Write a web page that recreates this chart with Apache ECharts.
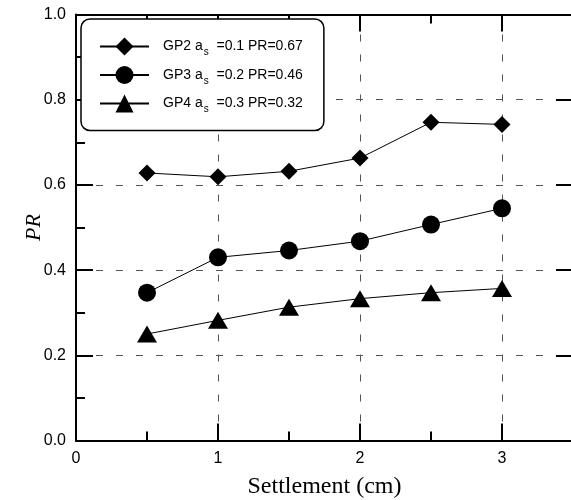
<!DOCTYPE html>
<html>
<head>
<meta charset="utf-8">
<title>PR vs Settlement</title>
<script src="https://cdn.jsdelivr.net/npm/echarts@6/dist/echarts.min.js"></script>
<style>
  html, body { margin: 0; padding: 0; background: #fff; }
  #chart { width: 571px; height: 500px; }
</style>
</head>
<body>
<div id="chart"></div>
<script>
// data
const settlement = [0.5, 1, 1.5, 2, 2.5, 3]
const gp2 = [0.628, 0.619, 0.632, 0.663, 0.747, 0.742]
const gp3 = [0.347, 0.43, 0.446, 0.468, 0.507, 0.545]
const gp4 = [0.25, 0.282, 0.313, 0.333, 0.347, 0.357]

const groups = ['GP2', 'GP3', 'GP4']
const asValues = ['0.1', '0.2', '0.3']
const prValues = ['0.67', '0.46', '0.32']
const symbols = ['diamond', 'circle', 'triangle']
const symbolSizes = [17, 18, [20, 17]]

const chart = echarts.init(document.getElementById('chart'))

const sans = 'Liberation Sans, Arial, sans-serif'
const serif = 'Liberation Serif, Times New Roman, serif'

// axis helpers
const gridLine = { show: true, lineStyle: { color: '#555', width: 1, type: [7, 13] } }
const baseAxis = (extra) => Object.assign({
    type: 'value',
    axisLine: { show: true, onZero: false, lineStyle: { color: '#000', width: 2 } },
    axisTick: { show: true, inside: true, length: 17, lineStyle: { color: '#000', width: 2 } },
    axisLabel: { show: false },
    splitLine: { show: false }
}, extra)
const minorAxis = (extra) => baseAxis(Object.assign({
    axisLine: { show: false, onZero: false },
    axisTick: { show: true, inside: true, length: 9, lineStyle: { color: '#000', width: 2 } }
}, extra))

const toPairs = (ys) => settlement.map((x, i) => [x, ys[i]])
const seriesData = [gp2, gp3, gp4]

const series = groups.map((g, i) => ({
    name: g,
    type: 'line',
    xAxisIndex: 0,
    yAxisIndex: 0,
    data: toPairs(seriesData[i]),
    symbol: symbols[i],
    symbolSize: symbolSizes[i],
    itemStyle: { color: '#000' },
    lineStyle: { color: '#000', width: 1 },
    emphasis: { disabled: true },
    z: 5
}))

const option = {
    animation: false,
    backgroundColor: '#fff',
    grid: {
        left: 76, right: -2, top: 14.5, bottom: 59.5,
        containLabel: false,
        outerBoundsMode: 'none'
    },
    legend: {
        orient: 'vertical',
        left: 81,
        top: 19,
        align: 'left',
        padding: [16.5, 21, 16, 18],
        itemWidth: 49,
        itemHeight: 22.5,
        itemGap: 6.5,
        borderColor: '#000',
        borderWidth: 1.5,
        borderRadius: 9,
        backgroundColor: '#fff',
        selectedMode: false,
        data: groups,
        formatter: (name) => {
            const i = groups.indexOf(name)
            return '{g|' + name + ' a}{s|s}{n|  =' + asValues[i] + ' PR=' + prValues[i] + '}'
        },
        textStyle: {
            color: '#000',
            rich: {
                g: { fontFamily: sans, fontSize: 14, color: '#000', lineHeight: 16, padding: [0, 0, 0, 9] },
                n: { fontFamily: sans, fontSize: 14, color: '#000', lineHeight: 16 },
                s: { fontFamily: sans, fontSize: 10, color: '#000', lineHeight: 10, padding: [12, 0, 0, 1] }
            }
        }
    },
    xAxis: [
        // bottom, labelled
        baseAxis({
            position: 'bottom', min: 0, max: 3.5, interval: 1,
            name: 'Settlement (cm)', nameLocation: 'middle', nameGap: 34,
            nameMoveOverlap: false,
            nameTextStyle: { fontFamily: serif, fontSize: 24, color: '#000' },
            axisLabel: {
                show: true, margin: 10, color: '#000', fontFamily: sans, fontSize: 16,
                formatter: (v) => (Number.isInteger(v) ? String(v) : '')
            },
            splitLine: gridLine
        }),
        minorAxis({ position: 'bottom', min: 0, max: 3.5, interval: 0.5 }),
        // top
        baseAxis({ position: 'top', min: 0, max: 3.5, interval: 1 }),
        minorAxis({ position: 'top', min: 0, max: 3.5, interval: 0.5 })
    ],
    yAxis: [
        // left, labelled
        baseAxis({
            position: 'left', min: 0, max: 1, interval: 0.2,
            name: 'PR', nameLocation: 'middle', nameGap: 31,
            nameMoveOverlap: false,
            nameTextStyle: { fontFamily: serif, fontSize: 22, fontStyle: 'italic', color: '#000' },
            axisLabel: {
                show: true, margin: 10, color: '#000', fontFamily: sans, fontSize: 16,
                formatter: (v) => v.toFixed(1)
            },
            splitLine: gridLine
        }),
        minorAxis({ position: 'left', min: 0, max: 1, interval: 0.1 }),
        // right
        baseAxis({ position: 'right', min: 0, max: 1, interval: 0.2 })
    ],
    series: series
}

chart.setOption(option)
</script>
</body>
</html>
